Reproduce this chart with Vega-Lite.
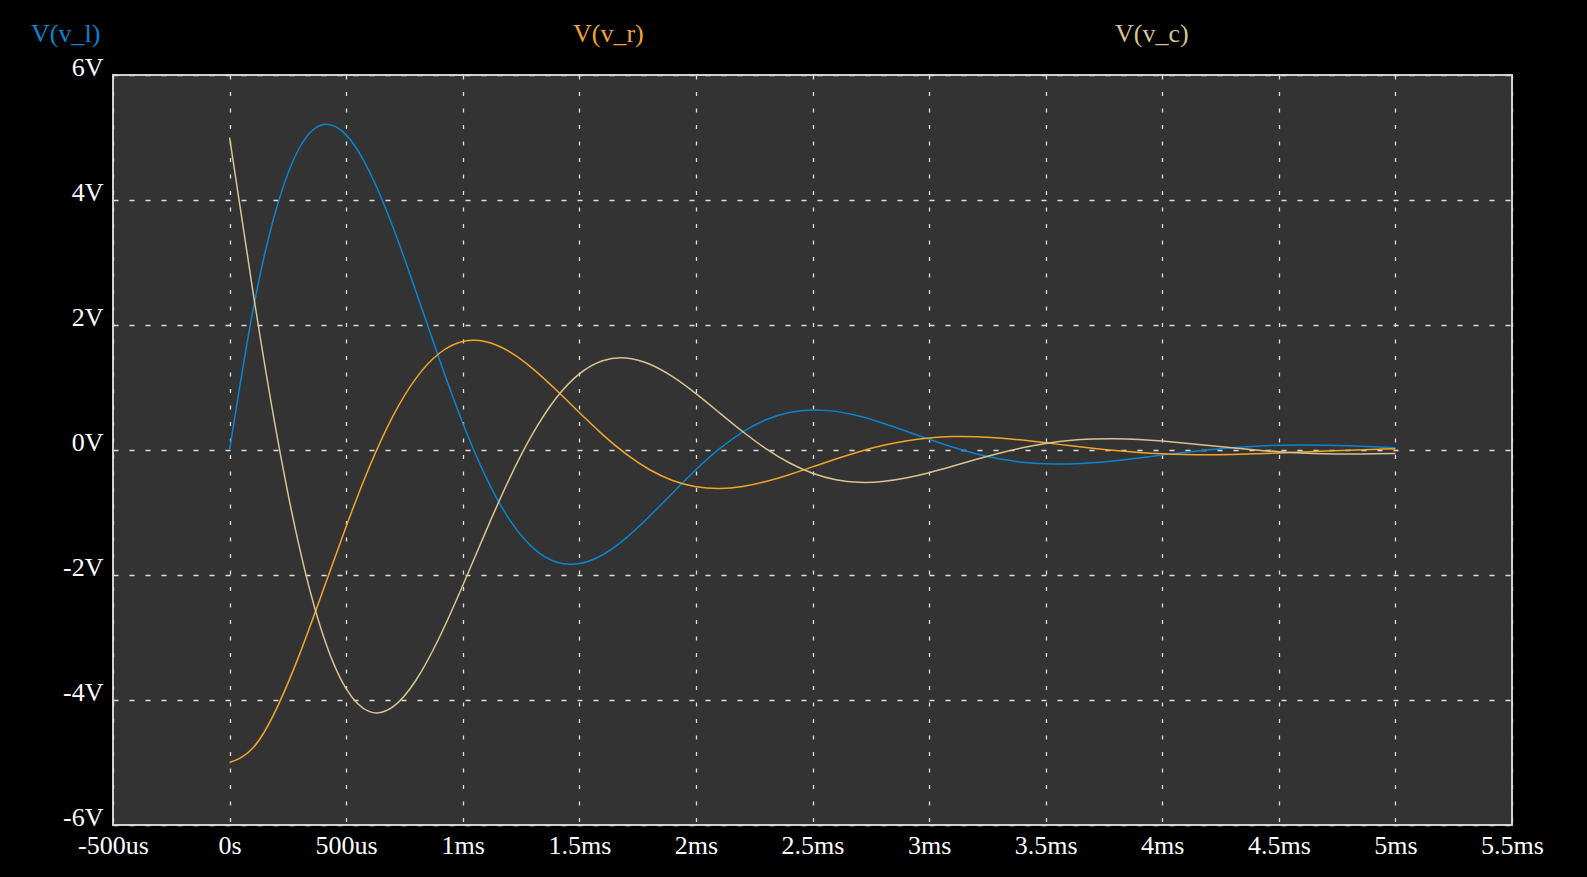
{
  "$schema": "https://vega.github.io/schema/vega-lite/v6.json",
  "width": 1399,
  "height": 750,
  "autosize": {"type": "none"},
  "padding": {"left": 113, "top": 75, "right": 75, "bottom": 52},
  "background": "#000000",
  "config": {
    "view": {"fill": "#333333", "stroke": "#d0d0d0", "strokeWidth": 2},
    "font": "Liberation Serif"
  },
  "data": {
    "values": [
      {"t": 0, "vl": 0, "vr": -5, "vc": 5},
      {"t": 0.1, "vl": 2.2283, "vr": -4.7678, "vc": 2.5395},
      {"t": 0.2, "vl": 3.8524, "vr": -4.1491, "vc": 0.2967},
      {"t": 0.3, "vl": 4.8359, "vr": -3.2697, "vc": -1.5662},
      {"t": 0.4, "vl": 5.2064, "vr": -2.2558, "vc": -2.9506},
      {"t": 0.5, "vl": 5.0418, "vr": -1.2229, "vc": -3.8189},
      {"t": 0.6, "vl": 4.4538, "vr": -0.2673, "vc": -4.1865},
      {"t": 0.7, "vl": 3.5721, "vr": 0.5391, "vc": -4.1112},
      {"t": 0.8, "vl": 2.5292, "vr": 1.1508, "vc": -3.68},
      {"t": 0.9, "vl": 1.448, "vr": 1.5482, "vc": -2.9962},
      {"t": 1.0, "vl": 0.4326, "vr": 1.7345, "vc": -2.1671},
      {"t": 1.1, "vl": -0.4376, "vr": 1.731, "vc": -1.2934},
      {"t": 1.2, "vl": -1.1107, "vr": 1.5726, "vc": -0.4619},
      {"t": 1.3, "vl": -1.562, "vr": 1.3016, "vc": 0.2604},
      {"t": 1.4, "vl": -1.7911, "vr": 0.9627, "vc": 0.8284},
      {"t": 1.5, "vl": -1.8176, "vr": 0.5987, "vc": 1.2189},
      {"t": 1.6, "vl": -1.676, "vr": 0.2469, "vc": 1.4291},
      {"t": 1.7, "vl": -1.4094, "vr": -0.0634, "vc": 1.4728},
      {"t": 1.8, "vl": -1.0645, "vr": -0.3117, "vc": 1.3762},
      {"t": 1.9, "vl": -0.6864, "vr": -0.487, "vc": 1.1734},
      {"t": 2.0, "vl": -0.3151, "vr": -0.5867, "vc": 0.9018},
      {"t": 2.1, "vl": 0.0172, "vr": -0.6156, "vc": 0.5984},
      {"t": 2.2, "vl": 0.2877, "vr": -0.584, "vc": 0.2963},
      {"t": 2.3, "vl": 0.4833, "vr": -0.5056, "vc": 0.0223},
      {"t": 2.4, "vl": 0.6, "vr": -0.3959, "vc": -0.2041},
      {"t": 2.5, "vl": 0.6416, "vr": -0.2706, "vc": -0.371},
      {"t": 2.6, "vl": 0.6181, "vr": -0.1436, "vc": -0.4745},
      {"t": 2.7, "vl": 0.5432, "vr": -0.0268, "vc": -0.5164},
      {"t": 2.8, "vl": 0.4331, "vr": 0.0713, "vc": -0.5044},
      {"t": 2.9, "vl": 0.3043, "vr": 0.1449, "vc": -0.4492},
      {"t": 3.0, "vl": 0.171, "vr": 0.1926, "vc": -0.3636},
      {"t": 3.1, "vl": 0.0467, "vr": 0.2142, "vc": -0.2609},
      {"t": 3.2, "vl": -0.0592, "vr": 0.2125, "vc": -0.1533},
      {"t": 3.3, "vl": -0.1406, "vr": 0.1921, "vc": -0.0515},
      {"t": 3.4, "vl": -0.1946, "vr": 0.1581, "vc": 0.0365},
      {"t": 3.5, "vl": -0.2214, "vr": 0.1161, "vc": 0.1053},
      {"t": 3.6, "vl": -0.2234, "vr": 0.0712, "vc": 0.1522},
      {"t": 3.7, "vl": -0.2049, "vr": 0.0281, "vc": 0.1768},
      {"t": 3.8, "vl": -0.1714, "vr": -0.0097, "vc": 0.1811},
      {"t": 3.9, "vl": -0.1285, "vr": -0.0398, "vc": 0.1683},
      {"t": 4.0, "vl": -0.0819, "vr": -0.0609, "vc": 0.1428},
      {"t": 4.1, "vl": -0.0364, "vr": -0.0727, "vc": 0.1091},
      {"t": 4.2, "vl": 0.0042, "vr": -0.0758, "vc": 0.0716},
      {"t": 4.3, "vl": 0.037, "vr": -0.0715, "vc": 0.0345},
      {"t": 4.4, "vl": 0.0606, "vr": -0.0616, "vc": 0.001},
      {"t": 4.5, "vl": 0.0744, "vr": -0.0479, "vc": -0.0265},
      {"t": 4.6, "vl": 0.079, "vr": -0.0324, "vc": -0.0466},
      {"t": 4.7, "vl": 0.0757, "vr": -0.0168, "vc": -0.0589},
      {"t": 4.8, "vl": 0.0662, "vr": -0.0026, "vc": -0.0636},
      {"t": 4.9, "vl": 0.0525, "vr": 0.0094, "vc": -0.0619},
      {"t": 5.0, "vl": 0.0365, "vr": 0.0183, "vc": -0.0548}
    ]
  },
  "transform": [{"fold": ["vl", "vr", "vc"], "as": ["series", "v"]}],
  "mark": {"type": "line", "interpolate": "natural", "strokeWidth": 1.5, "clip": true},
  "encoding": {
    "x": {
      "field": "t",
      "type": "quantitative",
      "scale": {"domain": [-0.5, 5.5], "nice": false, "zero": false},
      "axis": {
        "title": null,
        "values": [-0.5, 0, 0.5, 1, 1.5, 2, 2.5, 3, 3.5, 4, 4.5, 5, 5.5],
        "labelExpr": "datum.value == 0 ? '0s' : abs(datum.value) < 1 ? (datum.value * 1000) + 'us' : datum.value + 'ms'",
        "labelFlush": false,
        "labelOverlap": false,
        "ticks": false,
        "tickSize": 0,
        "domain": false,
        "labelPadding": 28,
        "labelBaseline": "alphabetic",
        "labelFont": "Liberation Serif",
        "labelFontSize": 26,
        "labelColor": "#ffffff",
        "grid": true,
        "gridColor": "#dddddd",
        "gridDash": [4, 12.5],
        "gridWidth": 1.3,
        "gridOpacity": 1
      }
    },
    "y": {
      "field": "v",
      "type": "quantitative",
      "scale": {"domain": [-6, 6], "nice": false, "zero": false},
      "axis": {
        "title": null,
        "values": [-6, -4, -2, 0, 2, 4, 6],
        "labelExpr": "datum.value + 'V'",
        "labelOverlap": false,
        "labelFlush": false,
        "ticks": false,
        "tickSize": 0,
        "domain": false,
        "labelPadding": 10,
        "labelBaseline": "alphabetic",
        "labelFont": "Liberation Serif",
        "labelFontSize": 26,
        "labelColor": "#ffffff",
        "grid": true,
        "gridColor": "#dddddd",
        "gridDash": [5, 11],
        "gridWidth": 1.3,
        "gridOpacity": 1
      }
    },
    "color": {
      "field": "series",
      "type": "nominal",
      "scale": {"domain": ["vl", "vr", "vc"], "range": ["#0a84d0", "#f2a52c", "#d9c390"]},
      "legend": {
        "orient": "none",
        "legendX": -108,
        "legendY": -54,
        "direction": "horizontal",
        "columns": 3,
        "title": null,
        "padding": 0,
        "symbolSize": 0,
        "symbolOpacity": 0,
        "symbolStrokeWidth": 0,
        "labelOffset": 0,
        "columnPadding": 442,
        "gridAlign": "all",
        "labelFont": "Liberation Serif",
        "labelFontSize": 26,
        "labelLimit": 0,
        "labelExpr": "datum.value == 'vl' ? 'V(v_l)' : datum.value == 'vr' ? 'V(v_r)' : 'V(v_c)'",
        "labelColor": {"expr": "datum.value == 'vl' ? '#0a84d0' : datum.value == 'vr' ? '#f2a52c' : '#d9c390'"}
      }
    }
  }
}
